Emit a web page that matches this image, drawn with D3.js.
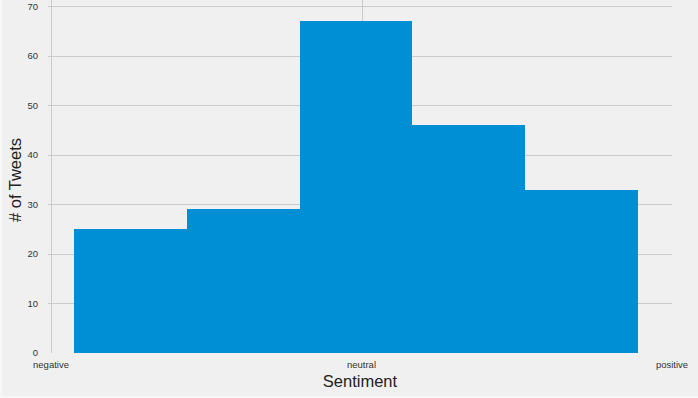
<!DOCTYPE html>
<html>
<head>
<meta charset="utf-8">
<script src="https://cdn.jsdelivr.net/npm/d3@7"></script>
<style>
  body { margin: 0; background: #f7f7f7; }
  svg { display: block; font-family: "Liberation Sans", Arial, sans-serif; }
</style>
</head>
<body>
<div id="chart"></div>
<script>
// histogram bins (sentiment polarity edges) and tweet counts
var binEdges = [-0.925, -0.562, -0.199, 0.164, 0.527, 0.890];
var counts = [25, 29, 67, 46, 33];
var xTicks = [-1, 0, 1];
var xTickLabels = ["negative", "neutral", "positive"];
var yTicks = [0, 10, 20, 30, 40, 50, 60, 70];

var w = 698, h = 398;
var plotLeft = 51, plotRight = 672, plotTop = 6.3, plotBottom = 353;

var svg = d3.select("#chart").append("svg")
    .attr("width", w)
    .attr("height", h);

// figure background
svg.append("rect")
    .attr("x", 2).attr("y", 0)
    .attr("width", w - 2).attr("height", h - 2)
    .attr("fill", "#f0f0f0");

var x = d3.scaleLinear().domain([-1, 1]).range([plotLeft, plotRight]);
var y = d3.scaleLinear().domain([0, 70]).range([plotBottom, plotTop]);

// grid lines
svg.append("g").selectAll("line")
    .data(yTicks.filter(function(d) { return d > 0; }))
    .enter().append("line")
    .attr("x1", plotLeft - 3).attr("x2", plotRight)
    .attr("y1", function(d) { return Math.round(y(d)) + 0.5; })
    .attr("y2", function(d) { return Math.round(y(d)) + 0.5; })
    .attr("stroke", "#cbcbcb")
    .attr("stroke-width", 1);

svg.append("g").selectAll("line")
    .data(xTicks.filter(function(d) { return d < 1; }))
    .enter().append("line")
    .attr("x1", function(d) { return Math.round(x(d)) + 0.5; })
    .attr("x2", function(d) { return Math.round(x(d)) + 0.5; })
    .attr("y1", 0).attr("y2", plotBottom)
    .attr("stroke", "#cbcbcb")
    .attr("stroke-width", 1);

// bars
svg.append("g").selectAll("rect")
    .data(counts)
    .enter().append("rect")
    .attr("x", function(d, i) { return x(binEdges[i]); })
    .attr("width", function(d, i) { return x(binEdges[i + 1]) - x(binEdges[i]); })
    .attr("y", function(d) { return y(d); })
    .attr("height", function(d) { return y(0) - y(d); })
    .attr("fill", "#008fd5")
    .attr("shape-rendering", "crispEdges");

// y tick labels
svg.append("g").selectAll("text")
    .data(yTicks)
    .enter().append("text")
    .attr("x", 38)
    .attr("y", function(d) { return y(d); })
    .attr("dy", "0.35em")
    .attr("text-anchor", "end")
    .attr("font-size", "9.5px")
    .attr("fill", "#333")
    .text(function(d) { return d; });

// x tick labels
svg.append("g").selectAll("text")
    .data(xTicks)
    .enter().append("text")
    .attr("x", function(d) { return x(d); })
    .attr("y", 368)
    .attr("text-anchor", "middle")
    .attr("font-size", "9.5px")
    .attr("fill", "#333")
    .text(function(d, i) { return xTickLabels[i]; });

// axis titles
svg.append("text")
    .attr("x", 360)
    .attr("y", 387)
    .attr("text-anchor", "middle")
    .attr("font-size", "16.5px")
    .attr("fill", "#222")
    .text("Sentiment");

svg.append("text")
    .attr("transform", "translate(21," + 180 + ") rotate(-90)")
    .attr("text-anchor", "middle")
    .attr("font-size", "16.5px")
    .attr("fill", "#222")
    .text("# of Tweets");
</script>
</body>
</html>
